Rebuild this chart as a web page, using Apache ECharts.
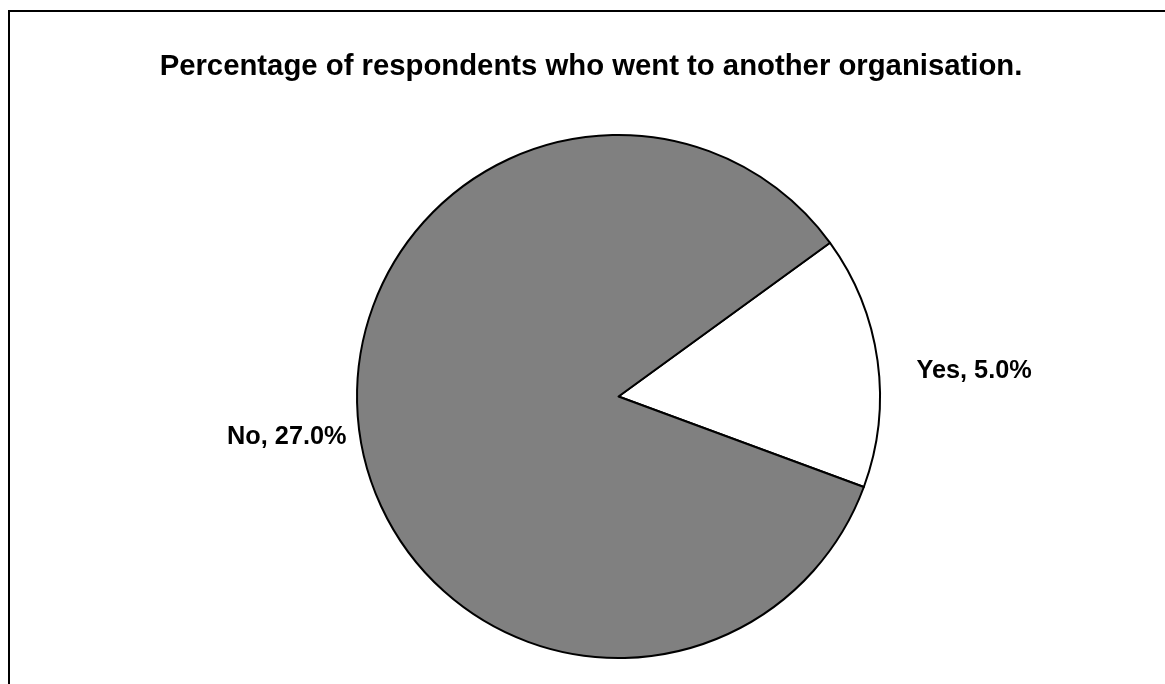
<!DOCTYPE html>
<html>
<head>
<meta charset="utf-8">
<script src="https://cdn.jsdelivr.net/npm/echarts@6/dist/echarts.min.js"></script>
<style>
  html, body { margin: 0; padding: 0; background: #fff; }
  #chart { width: 1165px; height: 684px; }
</style>
</head>
<body>
<div id="chart"></div>
<script>
// Survey answers: did the respondent go to another organisation?
const categories = ['Yes', 'No'];
const values = [5.0, 27.0];
const sliceColors = ['#ffffff', '#808080'];
const titleText = 'Percentage of respondents who went to another organisation.';

const chart = echarts.init(document.getElementById('chart'), null, { renderer: 'canvas' });

const pieData = categories.map((name, i) => ({
  name: name,
  value: values[i],
  itemStyle: { color: sliceColors[i] }
}));

// small nudges so labels sit where the layout wants them
const labelNudge = [
  { dx: 24, dy: 12 },
  { dx: 2, dy: 3 }
];

chart.setOption({
  backgroundColor: '#ffffff',
  animation: false,
  title: {
    text: titleText,
    left: 586,
    top: 47,
    textAlign: 'center',
    textStyle: {
      fontFamily: 'Liberation Sans, Arial, sans-serif',
      fontWeight: 'bold',
      fontSize: 29.3,
      color: '#000000'
    }
  },
  graphic: [
    {
      type: 'rect',
      shape: { x: 9, y: 11, width: 1400, height: 900 },
      style: { fill: 'none', stroke: '#000000', lineWidth: 2 },
      silent: true,
      z: -1
    }
  ],
  series: [
    {
      type: 'pie',
      center: [618.5, 396.5],
      radius: 261.5,
      startAngle: 36,
      clockwise: true,
      avoidLabelOverlap: false,
      data: pieData,
      itemStyle: { borderColor: '#000000', borderWidth: 2 },
      label: {
        show: true,
        position: 'outside',
        formatter: p => p.name + ', ' + p.value.toFixed(1) + '%',
        fontFamily: 'Liberation Sans, Arial, sans-serif',
        fontWeight: 'bold',
        fontSize: 25.3,
        color: '#000000'
      },
      labelLine: { show: false, length: 10, length2: 0 },
      labelLayout: p => labelNudge[p.dataIndex],
      emphasis: { disabled: true }
    }
  ]
});
</script>
</body>
</html>
